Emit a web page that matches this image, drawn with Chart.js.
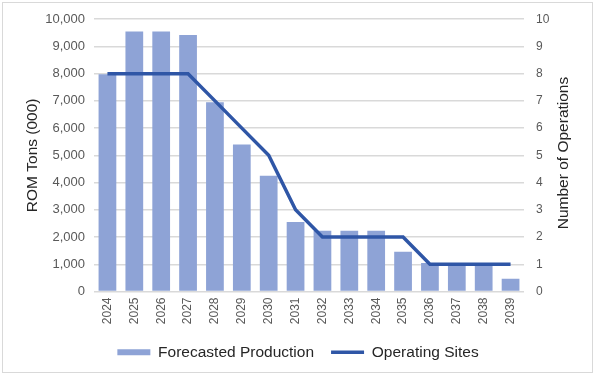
<!DOCTYPE html>
<html>
<head>
<meta charset="utf-8">
<script src="https://cdn.jsdelivr.net/npm/chart.js@4"></script>
<style>
  body { margin: 0; background: #fff; }
  #wrap { width: 596px; height: 379px; position: relative; }
</style>
</head>
<body>
<div id="wrap"><canvas id="prodChart" width="596" height="379"></canvas></div>
<script>
// Data
const years = ['2024', '2025', '2026', '2027', '2028', '2029', '2030', '2031',
               '2032', '2033', '2034', '2035', '2036', '2037', '2038', '2039'];
const production = [7980, 9550, 9550, 9420, 6950, 5400, 4250, 2550,
                     2230, 2230, 2230, 1460, 1050, 1000, 1000, 470];
const operatingSites = [8, 8, 8, 8, 7, 6, 5, 3, 2, 2, 2, 2, 1, 1, 1, 1];

const FONT = "'Liberation Sans', Arial, sans-serif";

// white background + thin frame like the original export
const framePlugin = {
    id: 'frame',
    beforeDraw(chart) {
        const c = chart.ctx;
        c.save();
        c.fillStyle = '#fff';
        c.fillRect(0, 0, chart.width, chart.height);
        c.strokeStyle = '#d9d9d9';
        c.lineWidth = 1;
        c.strokeRect(2.5, 2.5, 590, 370);
        c.restore();
    },
    // right axis title reads bottom-to-top in the original
    afterDraw(chart) {
        const c = chart.ctx;
        c.save();
        c.translate(564, 153);
        c.rotate(-Math.PI / 2);
        c.font = '15.5px ' + FONT;
        c.fillStyle = '#262626';
        c.textAlign = 'center';
        c.textBaseline = 'middle';
        c.fillText('Number of Operations', 0, 0);
        c.restore();
    }
};

const ctx = document.getElementById('prodChart').getContext('2d');
const prodChart = new Chart(ctx, {
    data: {
        labels: years,
        datasets: [{
            type: 'bar',
            label: 'Forecasted Production',
            data: production,
            backgroundColor: '#8ea3d6',
            yAxisID: 'y',
            order: 2,
            pointStyle: 'rect',
            categoryPercentage: 1,
            barPercentage: 0.66
        }, {
            type: 'line',
            label: 'Operating Sites',
            data: operatingSites,
            borderColor: '#2f56a6',
            backgroundColor: '#2f56a6',
            borderWidth: 3.5,
            pointRadius: 0,
            tension: 0,
            yAxisID: 'y1',
            order: 1,
            pointStyle: 'line'
        }]
    },
    options: {
        responsive: false,
        animation: false,
        layout: { padding: { top: 18, left: 0, right: 0, bottom: 9 } },
        plugins: {
            tooltip: { enabled: false },
            legend: {
                position: 'bottom',
                labels: {
                    usePointStyle: true,
                    pointStyleWidth: 33,
                    boxHeight: 6,
                    padding: 17,
                    color: '#262626',
                    font: { family: FONT, size: 15.5 },
                    sort: (a, b) => a.datasetIndex - b.datasetIndex
                }
            }
        },
        scales: {
            x: {
                grid: { display: false, drawTicks: false },
                border: { display: false },
                ticks: {
                    color: '#595959',
                    font: { family: FONT, size: 12 },
                    minRotation: 90,
                    maxRotation: 90,
                    padding: 6
                },
                afterFit(scale) { scale.height = 36; }
            },
            y: {
                position: 'left',
                min: 0,
                max: 10000,
                ticks: {
                    stepSize: 1000,
                    color: '#595959',
                    padding: 9,
                    font: { family: FONT, size: 13 },
                    callback: v => v.toLocaleString('en-US')
                },
                grid: { color: '#d9d9d9', lineWidth: 1.5, drawTicks: false },
                border: { display: false },
                title: {
                    display: true,
                    text: 'ROM Tons (000)',
                    color: '#262626',
                    font: { family: FONT, size: 15.5 },
                    padding: { top: 23, bottom: 0 }
                },
                afterFit(scale) { scale.width = 94; }
            },
            y1: {
                position: 'right',
                min: 0,
                max: 10,
                ticks: {
                    stepSize: 1,
                    color: '#595959',
                    padding: 12,
                    font: { family: FONT, size: 12 }
                },
                grid: { drawOnChartArea: false, drawTicks: false },
                border: { display: false },
                afterFit(scale) { scale.width = 72; }
            }
        }
    },
    plugins: [framePlugin]
});
</script>
</body>
</html>
